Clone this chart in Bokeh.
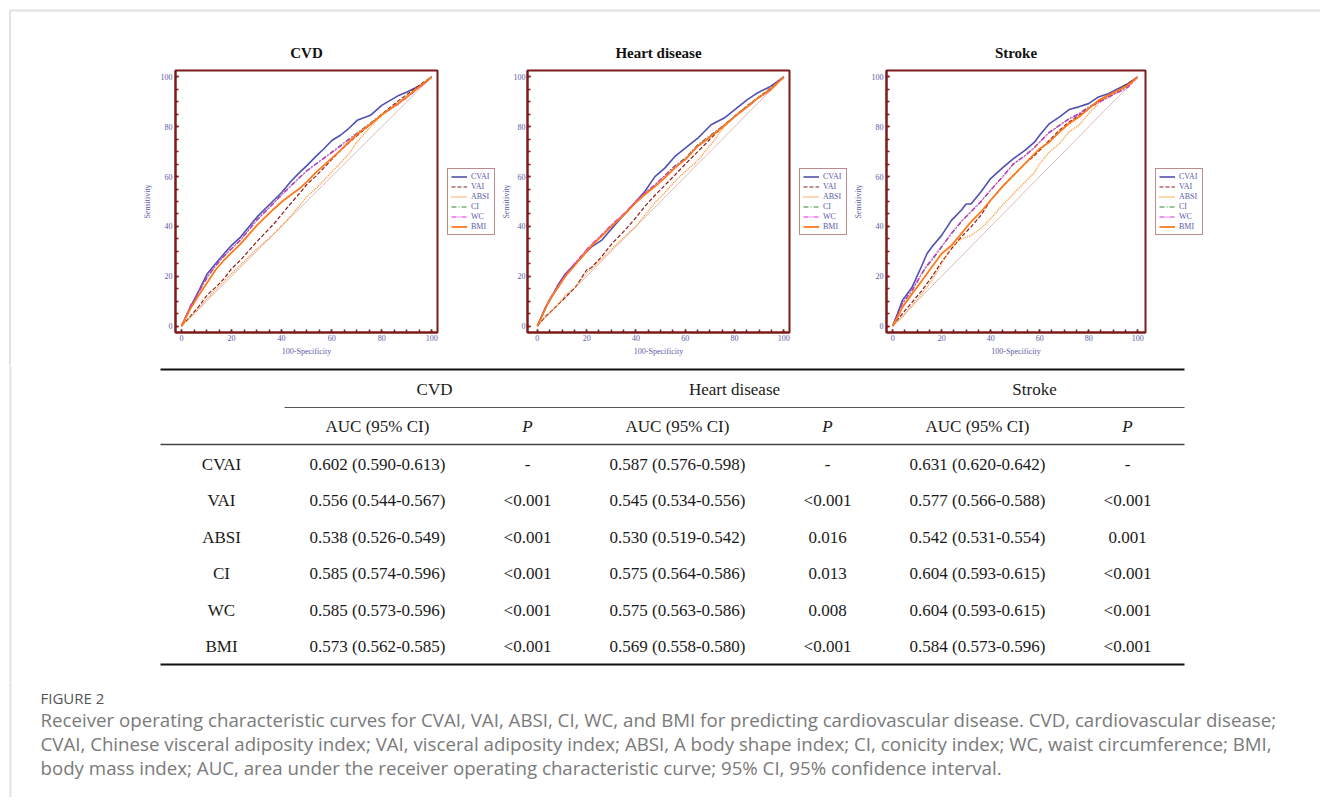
from bokeh.plotting import figure
from bokeh.models import Range1d, Legend, LegendItem, Spacer, SingleIntervalTicker, ColumnDataSource, Div
from bokeh.layouts import column, row
from bokeh.embed import file_html
from bokeh.resources import INLINE

# ---------------- ROC data ----------------
SERIES = ["CVAI", "VAI", "ABSI", "CI", "WC", "BMI"]

CVD_FPR = [0, 3.6, 7, 10.3, 13.6, 17, 20, 23.6, 30.2, 36.9, 40.2, 43.5, 46.9, 50.2, 53.5,
           56.9, 60.2, 63.5, 66.8, 70.2, 75.5, 80, 86.8, 90.1, 96.8, 100]
CVD_CVAI = [0, 7.6, 14.3, 21, 25, 29, 32.4, 35.7, 43.8, 50.5, 53.8, 57.8, 61.4, 64.5, 67.9,
            71.2, 74.6, 76.6, 79.3, 82.6, 84.6, 88.6, 92.6, 94, 97.3, 100]
CVD_VAI = [0, 4, 8, 12.5, 15.5, 19, 23, 26.5, 34, 41, 45, 49, 53, 57, 60,
           63.5, 67, 70.5, 73.5, 76.5, 81, 85, 90.5, 93, 98, 100]
CVD_ABSI = [0, 3.5, 7, 11, 14.5, 18, 21, 24.5, 31, 37, 40.5, 44, 48, 52, 55,
            58.5, 62, 65.5, 69, 74, 80, 84.5, 90, 92.5, 97.5, 100]
CVD_CI = [0, 8, 13.7, 19.5, 24, 28, 31, 34.5, 42.5, 49.5, 53, 56.2, 59.5, 62.5, 65,
          67.5, 70, 72.5, 75, 77.5, 81.5, 85, 89.5, 92, 97.5, 100]
CVD_WC = [0, 8.2, 14, 19.8, 24.3, 28.2, 31.2, 34.6, 42.8, 49.3, 52.8, 56, 59.3, 62.3, 64.8,
          67.3, 69.7, 72.2, 74.8, 77.3, 81.2, 84.8, 89.2, 91.8, 97.2, 100]
CVD_BMI = [0, 7, 12.5, 17.5, 22.5, 26.5, 29.5, 33, 40.5, 47, 50, 52.5, 55, 58, 61.5,
           64.5, 67.5, 70.5, 73.8, 77, 81, 84.8, 89.5, 92, 97.5, 100]

HD_FPR = [0, 3.4, 4.7, 8.7, 11.4, 15.4, 20, 22, 26.2, 30.2, 35.6, 40, 43.6, 47.7, 51.7,
          55.7, 60, 65.1, 70.5, 75.8, 80, 85.2, 89.3, 94.6, 100]
HD_CVAI = [0, 7.7, 9.7, 17, 21, 25, 29.8, 31.8, 34.5, 39.2, 45.2, 50, 54, 60, 63.4,
           68, 71.4, 75.4, 80.8, 83.5, 86.8, 90.9, 93.6, 96.2, 100]
HD_VAI = [0, 4, 5, 9, 11.5, 15.5, 22.5, 23.5, 28, 33, 38.5, 43.5, 48, 52.5, 56.5,
          60.5, 65, 70, 75.5, 80.5, 84.2, 88.5, 91.5, 95.5, 100]
HD_ABSI = [0, 4, 5, 9, 12.5, 15.5, 21.5, 23, 27, 31, 36, 40, 44.5, 49.5, 53.5,
           58, 62, 66.5, 73, 80, 84, 88.5, 91.5, 95.5, 100]
HD_CI = [0, 7.5, 10.3, 16.4, 20.5, 25.1, 30.5, 32.5, 36.5, 40.5, 45.2, 50, 53.3, 56.6, 60.5,
         64.3, 67.4, 72.8, 76.8, 80.8, 84.2, 88.2, 91.5, 94.9, 100]
HD_WC = [0, 7.6, 10.4, 16.6, 20.8, 25.4, 30.8, 32.8, 36.8, 40.8, 45.5, 50.2, 53.5, 56.8, 60.3,
         64, 67.1, 72.5, 76.5, 80.6, 84, 88, 91.3, 94.7, 100]
HD_BMI = [0, 7.2, 10, 16, 20, 24.6, 30, 32.2, 36.2, 40.2, 45, 49.6, 52.8, 56, 59.5,
          63.4, 66.8, 72.2, 76.2, 80.4, 84, 88, 91.4, 94.8, 100]

ST_FPR = [0, 2, 4, 8, 12, 14, 16, 20, 24, 28, 30, 32, 36, 40, 45.3, 49.3, 54, 58, 60,
          64, 68, 72, 76, 80, 84, 88, 92, 96, 100]
ST_CVAI = [0, 5, 10.3, 15.7, 24.4, 29, 31.7, 36.4, 42.4, 46.5, 49, 49, 53.8, 59.2, 63.9, 67.2,
           70.5, 73.9, 76.6, 81.3, 83.9, 86.9, 88, 89.3, 92, 93.3, 95.3, 97.3, 100]
ST_VAI = [0, 2.5, 5, 9.6, 14.3, 17, 19.7, 25.7, 31, 35.7, 37.8, 39.8, 44.4, 50.5, 56.5, 60.5,
          65.2, 68.5, 70.5, 74.6, 78.6, 81.9, 84.6, 87.3, 90, 92.6, 94.6, 97.3, 100]
ST_ABSI = [0, 2, 3.6, 8.3, 13, 15.5, 18.3, 25, 31.7, 35, 35.5, 36.4, 39.1, 43.1, 49.1, 53.1,
           57.8, 61.8, 65.2, 69.9, 73.2, 77.9, 80.6, 85.3, 89.3, 92, 94.6, 96.7, 100]
ST_CI = [0, 4, 9, 14.3, 21, 24, 26.4, 31.7, 37, 41.8, 43.8, 45.8, 49.8, 54.5, 60.5, 65.2,
         68.5, 71.9, 73.9, 77.9, 80.6, 83.3, 85.3, 88, 90, 92, 94, 96, 100]
ST_WC = [0, 4.2, 9.2, 14.6, 21.3, 24.4, 26.8, 32, 37.3, 42, 44, 46, 50, 54.7, 60.3, 65,
         68.3, 71.7, 73.8, 77.7, 80.4, 83.1, 85.1, 87.8, 89.8, 91.8, 93.8, 95.8, 100]
ST_BMI = [0, 3.5, 7.6, 13, 18.3, 21, 23.7, 29, 32.4, 37, 39.5, 41.8, 45.8, 50.5, 56.5, 60.5,
          65.2, 69.2, 71.2, 73.9, 77.9, 81.3, 83.9, 87.3, 90.6, 92.6, 94.6, 96.7, 100]

DIAG = [0, 100]

# ---------------- table data ----------------
GROUPS = ["CVD", "Heart disease", "Stroke"]
SUBHEAD = ["AUC (95% CI)", "P"]
CVD_AUC = ["0.602 (0.590-0.613)", "0.556 (0.544-0.567)", "0.538 (0.526-0.549)",
           "0.585 (0.574-0.596)", "0.585 (0.573-0.596)", "0.573 (0.562-0.585)"]
CVD_P = ["-", "<0.001", "<0.001", "<0.001", "<0.001", "<0.001"]
HD_AUC = ["0.587 (0.576-0.598)", "0.545 (0.534-0.556)", "0.530 (0.519-0.542)",
          "0.575 (0.564-0.586)", "0.575 (0.563-0.586)", "0.569 (0.558-0.580)"]
HD_P = ["-", "<0.001", "0.016", "0.013", "0.008", "<0.001"]
ST_AUC = ["0.631 (0.620-0.642)", "0.577 (0.566-0.588)", "0.542 (0.531-0.554)",
          "0.604 (0.593-0.615)", "0.604 (0.593-0.615)", "0.584 (0.573-0.596)"]
ST_P = ["-", "<0.001", "0.001", "<0.001", "<0.001", "<0.001"]

CAPTION_HEAD = "FIGURE 2"
CAPTION_LINES = [
    "Receiver operating characteristic curves for CVAI, VAI, ABSI, CI, WC, and BMI for predicting cardiovascular disease. CVD, cardiovascular disease;",
    "CVAI, Chinese visceral adiposity index; VAI, visceral adiposity index; ABSI, A body shape index; CI, conicity index; WC, waist circumference; BMI,",
    "body mass index; AUC, area under the receiver operating characteristic curve; 95% CI, 95% confidence interval.",
]

# ---------------- styles ----------------
DARKRED = "#7d1a1a"
TICKCOL = "#5a5aa6"
SERIF = "Liberation Serif"
PAGE_LINE = "#e2e2e2"
STYLE = {
    "CVAI": dict(color="#5050b0", dash="solid", width=1.6),
    "VAI": dict(color="#8b1c1c", dash="4 2", width=1.2),
    "ABSI": dict(color="#ff9433", dash="1 1", width=1.4),
    "CI": dict(color="#2e8b2e", dash="5 2 1 2", width=1.2),
    "WC": dict(color="#e029e0", dash="5 1 1 1 1 1", width=1.2),
    "BMI": dict(color="#ff7a1a", dash="solid", width=1.8),
}

W = 1320
STRIP_H = 12
TOP_H = 353
TAB_H = 317
CAP_H = 115


def blank(width, height, y0):
    f = figure(width=width, height=height, x_range=Range1d(0, width),
               y_range=Range1d(y0 + height, y0), output_backend="svg",
               toolbar_location=None, min_border=0)
    f.axis.visible = False
    f.grid.visible = False
    f.outline_line_color = None
    return f


# page frame: top rule and left rule
strip = blank(W, STRIP_H, 0)
strip.segment(x0=[9, 10], x1=[W, 10], y0=[10, 10], y1=[10, STRIP_H], line_color=PAGE_LINE, line_width=2)

filler = Div(text=('<div style="margin:0 0 0 9px;padding:0;width:2px;height:%dpx;'
                   'background:%s"></div>' % (TOP_H, PAGE_LINE)),
             width=135, height=TOP_H, margin=(0, 0, 0, 0))


def roc_panel(title, fpr, curves, width, left, xr, ylab_standoff, yl_standoff):
    p = figure(width=width, height=TOP_H, x_range=Range1d(*xr), y_range=Range1d(-2.6, 102.6),
               output_backend="svg", toolbar_location=None,
               min_border_left=left, min_border_right=3, min_border_top=58,
               min_border_bottom=33)
    p.title.text = title
    p.title.align = "center"
    p.title.standoff = 20
    p.title.text_font = SERIF
    p.title.text_font_size = "15px"
    p.title.text_font_style = "bold"
    p.title.text_color = "#111111"
    p.xgrid.visible = False
    p.ygrid.visible = False
    p.outline_line_color = DARKRED
    p.outline_line_width = 2
    for ax in (p.xaxis, p.yaxis):
        ax.ticker = SingleIntervalTicker(interval=20, num_minor_ticks=4)
        ax.axis_line_color = DARKRED
        ax.axis_line_width = 2
        ax.major_tick_line_color = DARKRED
        ax.minor_tick_line_color = DARKRED
        ax.major_tick_line_width = 1.5
        ax.minor_tick_line_width = 1.5
        ax.major_tick_in = 3
        ax.major_tick_out = 0
        ax.minor_tick_in = 3
        ax.minor_tick_out = 0
        ax.major_label_text_font = SERIF
        ax.major_label_text_font_size = "8px"
        ax.major_label_text_color = TICKCOL
        ax.axis_label_text_font = SERIF
        ax.axis_label_text_font_size = "8px"
        ax.axis_label_text_font_style = "normal"
        ax.axis_label_text_color = TICKCOL
    p.xaxis.axis_label = "100-Specificity"
    p.yaxis.axis_label = "Sensitivity"
    p.xaxis.major_label_standoff = 2
    p.xaxis.axis_label_standoff = 3
    p.yaxis.major_label_standoff = ylab_standoff
    p.yaxis.axis_label_standoff = yl_standoff

    p.line(DIAG, DIAG, line_color="#dcbcbc", line_width=1)
    for name in SERIES:
        st = STYLE[name]
        p.line(fpr, curves[name], line_color=st["color"], line_dash=st["dash"],
               line_width=st["width"])
    return p


LEG_TOP = 161   # page y of the legend figure's top edge
LEG_H = 80


def legend_box(width, xoff):
    """A small column holding only the legend box shown to the right of a panel."""
    f = blank(width, LEG_H, LEG_TOP)
    items = []
    for name in SERIES:
        st = STYLE[name]
        # one-point line: draws nothing itself, only supplies the legend sample style
        r = f.line(x=[0], y=[LEG_TOP], line_color=st["color"], line_dash=st["dash"],
                   line_width=st["width"])
        items.append(LegendItem(label=name, renderers=[r]))
    leg = Legend(items=items, location="top_left")
    leg.border_line_color = DARKRED
    leg.border_line_width = 1.5
    leg.background_fill_color = "white"
    leg.background_fill_alpha = 1
    leg.label_text_font = SERIF
    leg.label_text_font_size = "8px"
    leg.label_text_color = TICKCOL
    leg.label_height = 9
    leg.glyph_height = 9
    leg.glyph_width = 16
    leg.label_standoff = 4
    leg.spacing = 1
    leg.padding = 3
    leg.margin = xoff
    f.add_layout(leg, "center")
    return column(Spacer(width=width, height=LEG_TOP - STRIP_H), f,
                  Spacer(width=width, height=STRIP_H + TOP_H - LEG_TOP - LEG_H))


p1 = roc_panel("CVD", CVD_FPR,
               dict(CVAI=CVD_CVAI, VAI=CVD_VAI, ABSI=CVD_ABSI, CI=CVD_CI, WC=CVD_WC, BMI=CVD_BMI),
               305, 40, (-2.4, 102.3), 3, 6)
l1 = legend_box(58, 7)
p2 = roc_panel("Heart disease", HD_FPR,
               dict(CVAI=HD_CVAI, VAI=HD_VAI, ABSI=HD_ABSI, CI=HD_CI, WC=HD_WC, BMI=HD_BMI),
               294, 28, (-4.0, 102.3), 2, 0)
l2 = legend_box(58, 7)
p3 = roc_panel("Stroke", ST_FPR,
               dict(CVAI=ST_CVAI, VAI=ST_VAI, ABSI=ST_ABSI, CI=ST_CI, WC=ST_WC, BMI=ST_BMI),
               298, 31, (-2.5, 103.2), 3, 6)
l3 = legend_box(62, 7)

used = 135 + 305 + 58 + 294 + 58 + 298 + 62
top = row(filler, p1, l1, p2, l2, p3, l3, Spacer(width=W - used, height=TOP_H))

# ---------------- table (page pixel coordinates) ----------------
TY0 = STRIP_H + TOP_H
tab = blank(W, TAB_H, TY0)
tab.segment(x0=[10], x1=[10], y0=[TY0], y1=[TY0 + TAB_H], line_color=PAGE_LINE, line_width=2)

TL, TR = 160, 1184
LABEL_W = 124
GROUP_W = 300
RULE_Y = [369, 407, 444, 664]
tab.segment(x0=[TL, TL + LABEL_W, TL, TL], x1=[TR] * 4, y0=RULE_Y, y1=RULE_Y,
            line_color=["#111111", "#555555", "#444444", "#111111"], line_width=[2.2, 1.2, 1.6, 2.2])

TXT = dict(text_align="center", text_baseline="middle", text_font_size="17px",
           text_color="#1a1a1a", text_font={"value": SERIF})

gx = [TL + LABEL_W + GROUP_W * i + GROUP_W / 2 for i in range(3)]
tab.text(x="x", y="y", text="t", source=ColumnDataSource(dict(x=gx, y=[389] * 3, t=GROUPS)), **TXT)

auc_x = [TL + LABEL_W + GROUP_W * i + 93 for i in range(3)]
p_x = [TL + LABEL_W + GROUP_W * i + 243 for i in range(3)]
tab.text(x="x", y="y", text="t",
         source=ColumnDataSource(dict(x=auc_x, y=[426] * 3, t=[SUBHEAD[0]] * 3)), **TXT)
tab.text(x="x", y="y", text="t",
         source=ColumnDataSource(dict(x=p_x, y=[426] * 3, t=[SUBHEAD[1]] * 3)),
         text_font_style="italic", **TXT)

ROW_Y0, ROW_DY = 464, 36.4
ry = [ROW_Y0 + ROW_DY * i for i in range(len(SERIES))]
cells_x, cells_y, cells_t = [], [], []
for i, name in enumerate(SERIES):
    cells_x.append(TL + 61)
    cells_y.append(ry[i])
    cells_t.append(name)
for g, (aucs, ps) in enumerate([(CVD_AUC, CVD_P), (HD_AUC, HD_P), (ST_AUC, ST_P)]):
    for i in range(len(SERIES)):
        cells_x += [auc_x[g], p_x[g]]
        cells_y += [ry[i], ry[i]]
        cells_t += [aucs[i], ps[i]]
tab.text(x="x", y="y", text="t", source=ColumnDataSource(dict(x=cells_x, y=cells_y, t=cells_t)), **TXT)

# ---------------- caption ----------------
CY0 = TY0 + TAB_H
cap = blank(W, CAP_H, CY0)
cap.segment(x0=[10], x1=[10], y0=[CY0], y1=[CY0 + CAP_H], line_color=PAGE_LINE, line_width=2)
cap.text(x=[40], y=[697], text=[CAPTION_HEAD], text_align="left", text_baseline="middle",
         text_font_size="15px", text_color="#555555", text_font={"value": "Open Sans"})
cap.text(x=[40] * 3, y=[719 + 24 * i for i in range(3)], text=CAPTION_LINES, text_align="left",
         text_baseline="middle", text_font_size="18.7px", text_color="#7a7a7a",
         text_font={"value": "Open Sans"})

layout = column(strip, top, tab, cap)

open("out.html", "w").write(file_html(layout, INLINE))
